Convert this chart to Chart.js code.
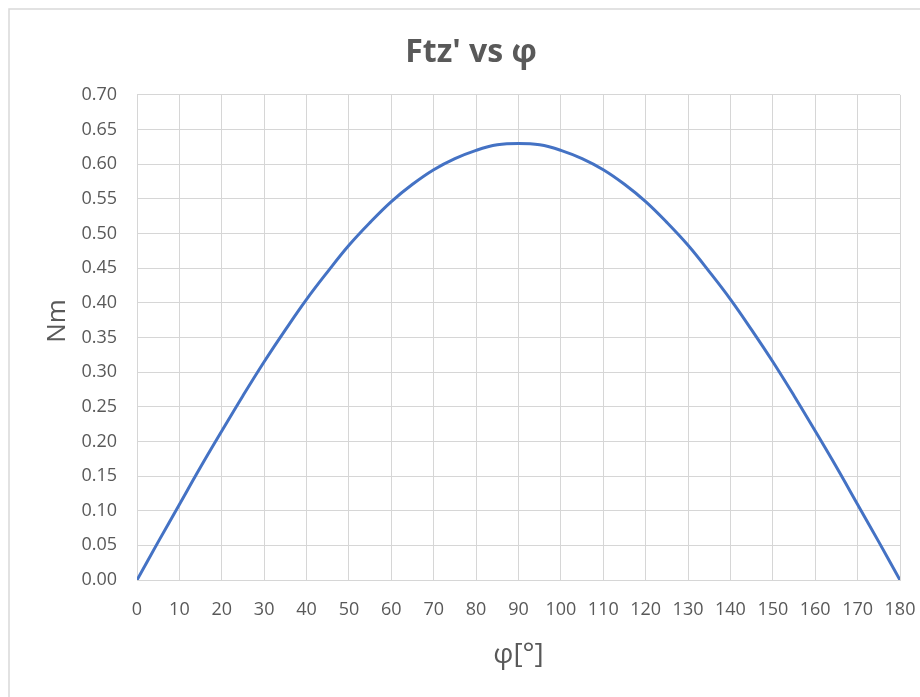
<!DOCTYPE html>
<html>
<head>
<meta charset="utf-8">
<title>Ftz' vs φ</title>
<script src="https://cdn.jsdelivr.net/npm/chart.js@4/dist/chart.umd.min.js"></script>
<style>
  html, body { margin: 0; padding: 0; background: #ffffff; }
  #wrap { width: 920px; height: 697px; }
</style>
</head>
<body>
<div id="wrap"><canvas id="c" width="920" height="697"></canvas></div>
<script>
// Angle φ in degrees and the torque Ftz' in Nm
const phi = [0, 5, 10, 15, 20, 25, 30, 35, 40, 45, 50, 55, 60, 65, 70, 75, 80, 85, 90,
             95, 100, 105, 110, 115, 120, 125, 130, 135, 140, 145, 150, 155, 160, 165, 170, 175, 180];
const ftz = [0.000, 0.055, 0.109, 0.163, 0.215, 0.266, 0.315, 0.361, 0.405, 0.445, 0.483, 0.516,
             0.546, 0.571, 0.592, 0.608, 0.620, 0.628, 0.630,
             0.628, 0.620, 0.608, 0.592, 0.571, 0.546, 0.516, 0.483, 0.445, 0.405, 0.361, 0.315,
             0.266, 0.215, 0.163, 0.109, 0.055, 0.000];

// Axis tick values
const xTicks = [0, 10, 20, 30, 40, 50, 60, 70, 80, 90, 100, 110, 120, 130, 140, 150, 160, 170, 180];
const yTicks = [0.00, 0.05, 0.10, 0.15, 0.20, 0.25, 0.30, 0.35, 0.40, 0.45, 0.50, 0.55, 0.60, 0.65, 0.70];

const chartTitle = "Ftz' vs φ";
const xTitle = 'φ[°]';
const yTitle = 'Nm';

const FONT = "'Open Sans', 'DejaVu Sans', sans-serif";
const TEXT = '#595959';
const GRID = '#d6d6d6';

// Light frame around the whole chart
const framePlugin = {
  id: 'frame',
  beforeDraw(chart) {
    const ctx = chart.ctx;
    ctx.save();
    ctx.strokeStyle = '#d9d9d9';
    ctx.lineWidth = 1.5;
    ctx.strokeRect(9, 9, 1000, 1000);
    ctx.restore();
  }
};

// Vertical axis title, rotated, placed beside the value labels
const yTitlePlugin = {
  id: 'yTitle',
  afterDraw(chart) {
    const ctx = chart.ctx;
    ctx.save();
    ctx.translate(58, 321);
    ctx.rotate(-Math.PI / 2);
    ctx.fillStyle = TEXT;
    ctx.font = "26px " + FONT;
    ctx.textAlign = 'center';
    ctx.textBaseline = 'middle';
    ctx.fillText(yTitle, 0, 0);
    ctx.restore();
  }
};

const points = phi.map((p, i) => ({ x: p, y: ftz[i] }));

new Chart(document.getElementById('c'), {
  type: 'scatter',
  data: {
    datasets: [{
      data: points,
      showLine: true,
      borderColor: '#4472C4',
      borderWidth: 3,
      pointRadius: 0,
      tension: 0.4,
      fill: false
    }]
  },
  options: {
    responsive: false,
    animation: false,
    layout: { padding: { left: 27, right: 5, top: 0, bottom: 0 } },
    plugins: {
      legend: { display: false },
      tooltip: { enabled: false },
      title: {
        display: true,
        text: chartTitle,
        color: TEXT,
        font: { family: FONT, size: 32, weight: 'bold' },
        padding: { top: 34, bottom: 22.5 }
      }
    },
    scales: {
      x: {
        type: 'linear',
        min: 0,
        max: 180,
        afterBuildTicks: s => { s.ticks = xTicks.map(v => ({ value: v })); },
        afterFit: s => { s.height = 117; s.paddingRight = 20; s.paddingLeft = 0; },
        grid: { color: GRID, lineWidth: 1, drawTicks: false },
        border: { color: GRID, width: 1 },
        ticks: {
          color: TEXT,
          font: { family: FONT, size: 18 },
          padding: 19,
          maxRotation: 0,
          autoSkip: false,
          callback: v => String(v)
        },
        title: {
          display: true,
          text: xTitle,
          color: TEXT,
          font: { family: FONT, size: 28 },
          padding: { top: 0, bottom: 25 }
        }
      },
      y: {
        type: 'linear',
        min: 0,
        max: 0.7,
        afterBuildTicks: s => { s.ticks = yTicks.map(v => ({ value: v })); },
        afterFit: s => { s.width = 110; s.paddingTop = 0; s.paddingBottom = 0; },
        grid: { color: GRID, lineWidth: 1, drawTicks: false },
        border: { color: GRID, width: 1 },
        ticks: {
          color: TEXT,
          font: { family: FONT, size: 18 },
          padding: 20,
          autoSkip: false,
          callback: v => Number(v).toFixed(2)
        },
        title: { display: false }
      }
    }
  },
  plugins: [framePlugin, yTitlePlugin]
});
</script>
</body>
</html>
